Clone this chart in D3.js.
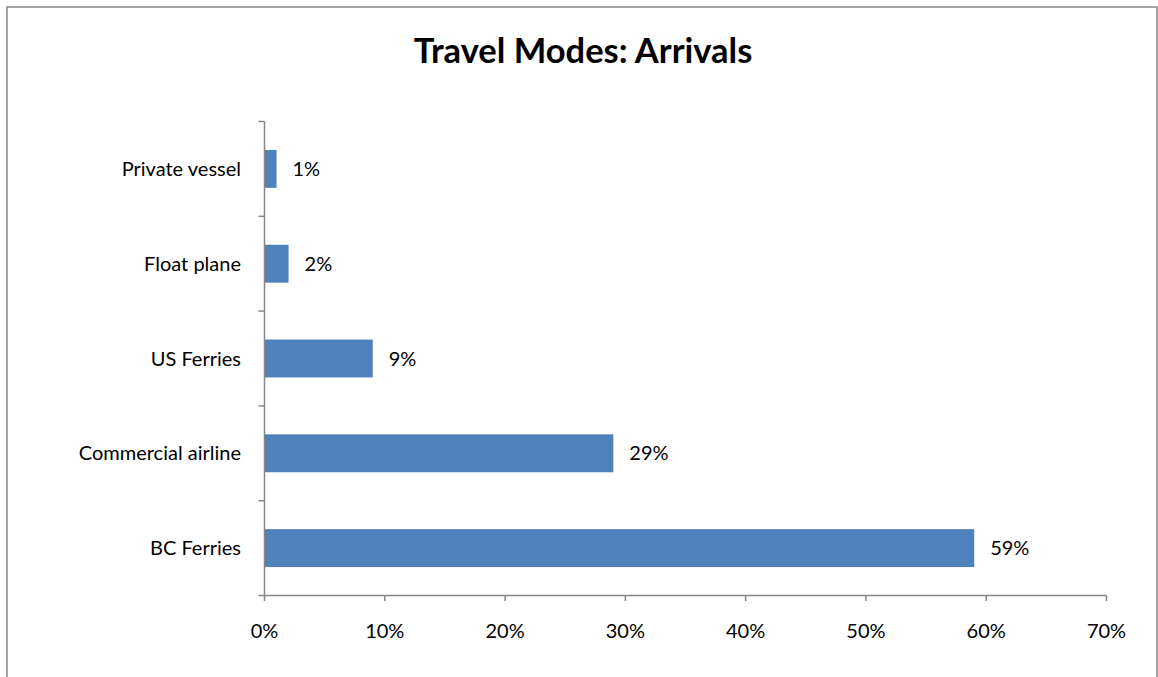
<!DOCTYPE html>
<html><head><meta charset="utf-8">
<script src="https://cdn.jsdelivr.net/npm/d3@7"></script>
<style>body{margin:0;background:#fff}svg{display:block}text{font-family:Lato,"Open Sans",sans-serif}</style>
</head><body>
<svg id="c" width="1158" height="677"></svg>
<script>
const categories = ["Private vessel","Float plane","US Ferries","Commercial airline","BC Ferries"];
const values = [1,2,9,29,59];
const xTicks = [0,10,20,30,40,50,60,70];
const title = "Travel Modes: Arrivals";

const svg = d3.select("#c");
svg.append("rect").attr("x",7).attr("y",7).attr("width",1150).attr("height",680)
  .attr("fill","#fff").attr("stroke","#868686").attr("stroke-width",1.5);

const x = d3.scaleLinear().domain([0,70]).range([264.5,1106.5]);
const y = d3.scaleBand().domain(categories).range([121.5,595.5]).paddingInner(0.6).paddingOuter(0.3);
const yTicks = d3.scaleBand().domain(categories).range([121.5,595.5]);

svg.append("text").attr("x",583).attr("y",63).attr("text-anchor","middle")
  .attr("font-size",34.5).attr("font-weight","bold").attr("fill","#000").text(title);

svg.selectAll("rect.bar").data(values).join("rect").attr("class","bar")
  .attr("x",x(0)).attr("y",(d,i)=>y(categories[i]))
  .attr("width",d=>x(d)-x(0)).attr("height",y.bandwidth()).attr("fill","#4f81bd");

// axes
const ax = svg.append("g").attr("stroke","#868686").attr("stroke-width",1.5);
ax.append("line").attr("x1",x(0)).attr("x2",x(0)).attr("y1",121.5).attr("y2",595.5);
const yb = categories.map(c=>yTicks(c)).concat([595.5]);
ax.selectAll("line.yt").data(yb).join("line").attr("class","yt")
  .attr("x1",x(0)-6).attr("x2",x(0)).attr("y1",d=>d).attr("y2",d=>d);
ax.append("line").attr("x1",x(0)).attr("x2",x(70)).attr("y1",595.5).attr("y2",595.5);
ax.selectAll("line.xt").data(xTicks).join("line").attr("class","xt")
  .attr("x1",d=>x(d)).attr("x2",d=>x(d)).attr("y1",595.5).attr("y2",601);

svg.selectAll("text.xl").data(xTicks).join("text").attr("class","xl")
  .attr("x",d=>x(d)).attr("y",638).attr("text-anchor","middle").attr("font-size",20)
  .text(d=>d+"%");

svg.selectAll("text.cl").data(categories).join("text").attr("class","cl")
  .attr("x",241).attr("y",d=>yTicks(d)+yTicks.bandwidth()/2).attr("dy","0.35em")
  .attr("text-anchor","end").attr("font-size",20).text(d=>d);

svg.selectAll("text.vl").data(values).join("text").attr("class","vl")
  .attr("x",d=>x(d)+16).attr("y",(d,i)=>yTicks(categories[i])+yTicks.bandwidth()/2).attr("dy","0.35em")
  .attr("font-size",20).text(d=>d+"%");
</script>
</body></html>
